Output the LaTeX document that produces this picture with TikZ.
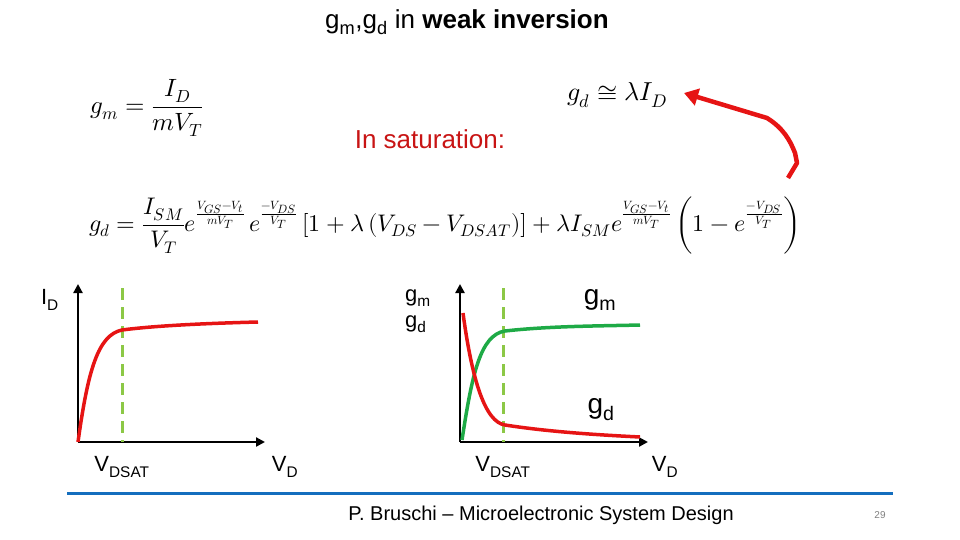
\documentclass[tikz,border=0pt]{standalone}
\usepackage{fontspec}
\setmainfont{Liberation Sans}
\usepackage{amsmath}
\usepackage{unicode-math}
\setmathfont{Latin Modern Math}
\usetikzlibrary{arrows.meta}
\definecolor{cred}{RGB}{230,20,20}
\definecolor{cgreen}{RGB}{30,170,70}
\definecolor{cdash}{RGB}{140,200,70}
\definecolor{cblue}{RGB}{20,110,190}
\definecolor{tred}{RGB}{200,20,20}
\tikzset{axis/.style={line width=2.2pt,-{Triangle[length=9pt,width=9pt]}},
curve/.style={line width=3.5pt},
vd/.style={cdash,line width=3pt,dash pattern=on 12pt off 7pt},
lab/.style={font=\fontsize{22}{24}\selectfont,inner sep=0pt},
eq/.style={inner sep=0pt}}
\begin{document}
\begin{tikzpicture}[x=1pt,y=-1pt]
\useasboundingbox (0,0) rectangle (960,540);
\node[inner sep=0pt,font=\fontsize{26}{28}\selectfont] (title) at (467,22) {g\textsubscript{m},g\textsubscript{d} in \textbf{weak inversion}};
\node[eq,font=\fontsize{25}{27}\selectfont] (gm) at (147,108) {$g_m=\dfrac{I_D}{mV_T}$};
\node[eq,font=\fontsize{26}{28}\selectfont] (gdl) at (617,95) {$g_d\cong\lambda I_D$};
\node[inner sep=0pt,text=tred,font=\fontsize{26}{28}\selectfont] (sat) at (430,139) {In saturation:};
\node[eq,font=\fontsize{24}{26}\selectfont] (gd) at (445,225) {$g_d=\dfrac{I_{SM}}{V_T}e^{\frac{V_{GS}-V_t}{mV_T}}\,e^{\frac{-V_{DS}}{V_T}}\left[1+\lambda\left(V_{DS}-V_{DSAT}\right)\right]+\lambda I_{SM}e^{\frac{V_{GS}-V_t}{mV_T}}\left(1-e^{\frac{-V_{DS}}{V_T}}\vphantom{\dfrac{I_{SM}}{V_T}}\right)$};
\coordinate (a0) at (788,178);
\draw[cred,line width=4.5pt,line join=round,-{Triangle[length=14pt,width=17pt]}] (a0) -- (797,163) -- (795,153) .. controls (790,140) and (783,128) .. (767,118) -- (684,93);
% left plot
\coordinate (o1) at (78,442);
\coordinate (y1) at (78,284);
\coordinate (x1) at (265,442);
\draw[axis] (o1) -- (y1);
\draw[axis] (o1) -- (x1);
\draw[vd] (122,288) -- (122,442);
\draw[cred,curve] (o1) .. controls (88,370) and (98,335) .. (122,330) .. controls (160,325) and (220,323) .. (258,322);
\node[lab] at (50,300) {I\textsubscript{D}};
\node[lab] at (122,467) {V\textsubscript{DSAT}};
\node[lab] at (285,467) {V\textsubscript{D}};
% right plot
\coordinate (o2) at (460,442);
\coordinate (y2) at (460,284);
\coordinate (x2) at (648,442);
\draw[axis] (o2) -- (y2);
\draw[axis] (o2) -- (x2);
\draw[vd] (503,288) -- (503,442);
\draw[cgreen,curve] (462,440) .. controls (472,375) and (480,335) .. (505,331) .. controls (550,326) and (600,326) .. (640,325);
\draw[cred,curve] (463,313) .. controls (472,380) and (485,422) .. (505,425) .. controls (550,432) and (600,435) .. (640,437);
\node[lab,align=left] at (418,311) {g\textsubscript{m}\\[2pt]g\textsubscript{d}};
\node[lab,font=\fontsize{28}{30}\selectfont] at (600,300) {g\textsubscript{m}};
\node[lab,font=\fontsize{28}{30}\selectfont] at (601,410) {g\textsubscript{d}};
\node[lab] at (503,467) {V\textsubscript{DSAT}};
\node[lab] at (665,467) {V\textsubscript{D}};
% footer
\draw[cblue,line width=3pt] (67,493) -- (893,493);
\node[inner sep=0pt,font=\fontsize{20}{22}\selectfont] at (541,515) {P. Bruschi -- Microelectronic System Design};
\node[inner sep=0pt,text=gray,font=\fontsize{10}{11}\selectfont] at (880,515) {29};
\end{tikzpicture}
\end{document}
